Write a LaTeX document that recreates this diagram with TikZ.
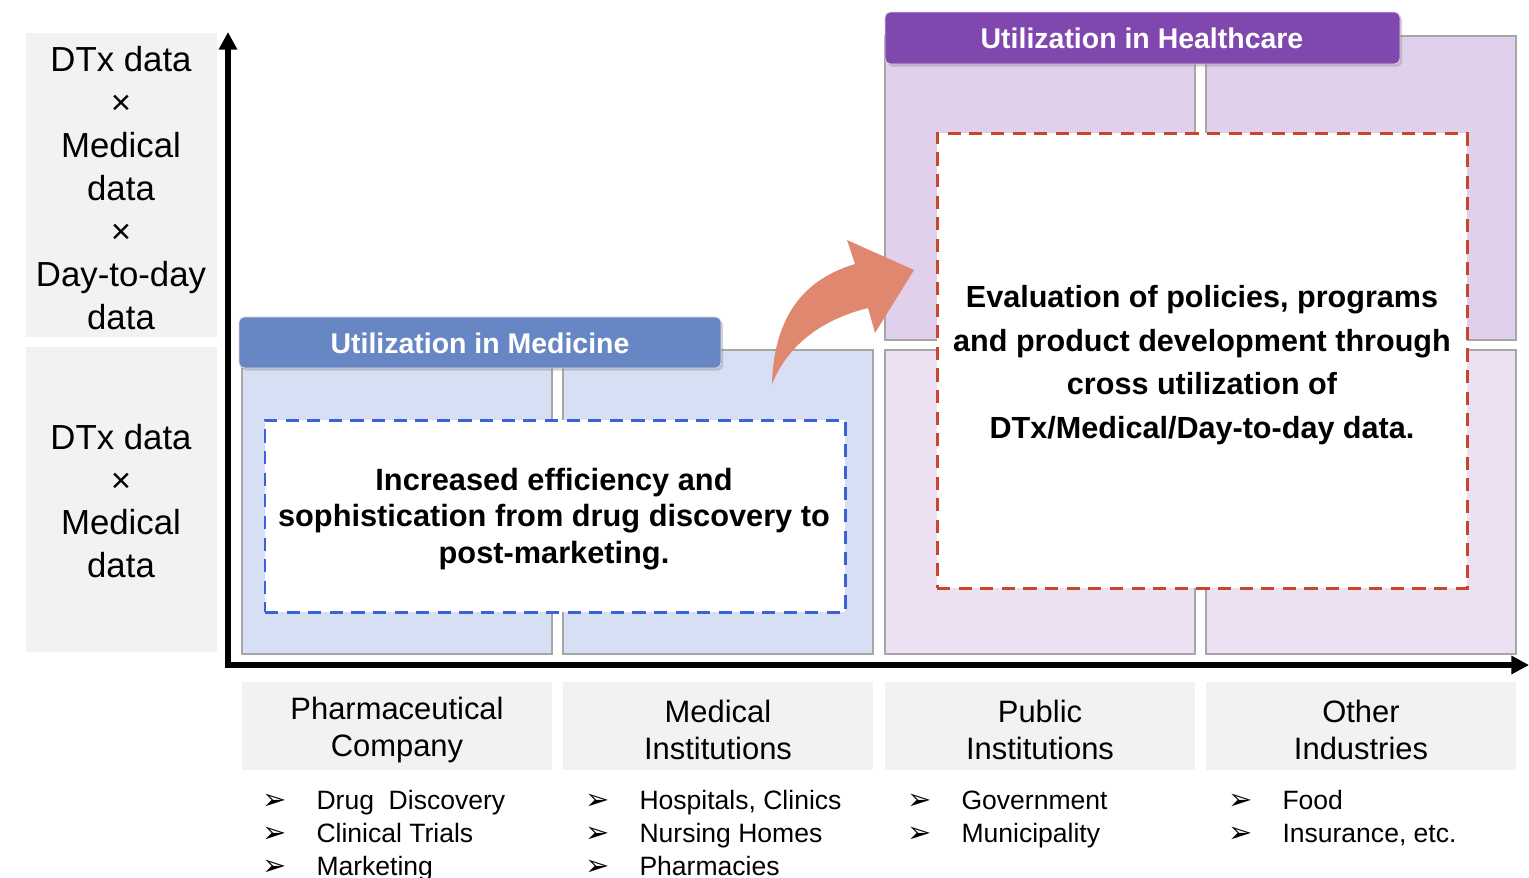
\documentclass[tikz,border=0pt]{standalone}
\usepackage{fontspec}
\setmainfont{Liberation Sans}
\newfontfamily\djv{DejaVu Sans}
\usetikzlibrary{arrows.meta,shadows,fit}
\definecolor{lblgray}{HTML}{F2F2F2}
\definecolor{cellgray}{HTML}{A6A6A6}
\definecolor{cellblue}{HTML}{D7DFF5}
\definecolor{cellpurA}{HTML}{E0D0EC}
\definecolor{cellpurB}{HTML}{ECE1F3}
\definecolor{hdrblue}{HTML}{6787C4}
\definecolor{hdrpurple}{HTML}{8048AE}
\definecolor{dashblue}{HTML}{3B62D9}
\definecolor{dashred}{HTML}{C9452B}
\definecolor{bigarrow}{HTML}{E0876F}
\newcommand{\bul}{{\djv\fontsize{16.5}{18.7}\selectfont ➢}}
\begin{document}
\begin{tikzpicture}[x=0.02cm,y=-0.02cm,
  lbl/.style={fill=lblgray, inner sep=0pt},
  lbltxt/.style={inner sep=0pt, align=center, font=\fontsize{19.8}{24.4}\selectfont},
  cat/.style={fill=lblgray, inner sep=0pt},
  cattxt/.style={inner sep=0pt, align=center, font=\fontsize{17.6}{21}\selectfont},
  cell/.style={draw=cellgray, line width=0.6pt, inner sep=0pt},
  hdr/.style={draw=white!85!black, line width=0.5pt, rounded corners=3pt, inner sep=0pt,
     drop shadow={shadow xshift=1.2pt, shadow yshift=-1.5pt, opacity=0.35}},
  hdrtxt/.style={inner sep=0pt, text=white, font=\bfseries\fontsize{16.2}{19}\selectfont},
  dbox/.style={fill=white, line width=1.7pt, dash pattern=on 7.5pt off 4.8pt, inner sep=0pt},
  dtxt/.style={inner sep=0pt, align=center},
  axis/.style={line width=3pt, line join=miter},
  bl/.style={anchor=north west, inner sep=0pt, font=\fontsize{15.1}{18.7}\selectfont}
]
\useasboundingbox (0,0) rectangle (1529,877);

% left labels
\node[lbl, fit={(26,33) (217,337)}] (lblA) {};
\node[lbl, fit={(26,347) (217,652)}] (lblB) {};
\node[lbltxt] (lblAt) at (121,188) {DTx data\\×\\Medical\\data\\×\\Day-to-day\\data};
\node[lbltxt] (lblBt) at (121,501) {DTx data\\×\\Medical\\data};

% cells
\node[cell, fill=cellblue, fit={(242,350) (552,654)}] (c1) {};
\node[cell, fill=cellblue, fit={(563,350) (873,654)}] (c2) {};
\node[cell, fill=cellpurA, fit={(885,36) (1195,340)}] (c3a) {};
\node[cell, fill=cellpurA, fit={(1206,36) (1516,340)}] (c4a) {};
\node[cell, fill=cellpurB, fit={(885,350) (1195,654)}] (c3b) {};
\node[cell, fill=cellpurB, fit={(1206,350) (1516,654)}] (c4b) {};

% headers
\node[hdr, fill=hdrblue, fit={(239,317) (721,368)}] (hmed) {};
\node[hdr, fill=hdrpurple, fit={(885,12) (1400,64)}] (hhc) {};
\node[hdrtxt] (hmedt) at (480,343) {Utilization in Medicine};
\node[hdrtxt] (hhct) at (1142,38) {Utilization in Healthcare};

% dashed boxes
\node[dbox, draw=dashblue, fit={(265,420) (845,612)}] (tmed) {};
\node[dbox, draw=dashred, fit={(937,133) (1467,588)}] (thc) {};
\node[dtxt, font=\bfseries\fontsize{17.5}{20.9}\selectfont] (tmedt) at (554,519)
  {Increased efficiency and\\sophistication from drug discovery to\\post-marketing.};
\node[dtxt, font=\bfseries\fontsize{17.4}{24.9}\selectfont] (thct) at (1202,365)
  {Evaluation of policies, programs\\and product development through\\cross utilization of\\DTx/Medical/Day-to-day data.};

% big curved arrow
\fill[bigarrow] (772,384) .. controls (774,312) and (808,278) .. (855,264)
  -- (847,240) -- (914,270) -- (875,333) -- (868,308)
  .. controls (828,318) and (790,340) .. (772,384) -- cycle;

% axes
\coordinate (ytip) at (228,32);
\coordinate (xtip) at (1529,665);
\draw[axis, {Triangle[length=10pt,width=10pt]}-{Triangle[length=10pt,width=10pt]}] (ytip) |- (xtip);

% category labels
\node[cat, fit={(242,682) (552,770)}] (k1) {};
\node[cat, fit={(563,682) (873,770)}] (k2) {};
\node[cat, fit={(885,682) (1195,770)}] (k3) {};
\node[cat, fit={(1206,682) (1516,770)}] (k4) {};
\node[cattxt] (k1t) at (397,730) {Pharmaceutical\\Company};
\node[cattxt] (k2t) at (718,730) {Medical\\Institutions};
\node[cattxt] (k3t) at (1040,730) {Public\\Institutions};
\node[cattxt] (k4t) at (1361,730) {Other\\Industries};

% bullet lists
\node[bl] (b1) at (262,786) {\begin{tabular}{@{}l@{\hspace{17pt}}l@{}}\bul & Drug\ \ Discovery\\ \bul & Clinical\ Trials\\ \bul & Marketing\end{tabular}};
\node[bl] (b2) at (585,786) {\begin{tabular}{@{}l@{\hspace{17pt}}l@{}}\bul & Hospitals, Clinics\\ \bul & Nursing Homes\\ \bul & Pharmacies\end{tabular}};
\node[bl] (b3) at (907,786) {\begin{tabular}{@{}l@{\hspace{17pt}}l@{}}\bul & Government\\ \bul & Municipality\end{tabular}};
\node[bl] (b4) at (1228,786) {\begin{tabular}{@{}l@{\hspace{17pt}}l@{}}\bul & Food\\ \bul & Insurance,\ etc.\end{tabular}};
\end{tikzpicture}
\end{document}
